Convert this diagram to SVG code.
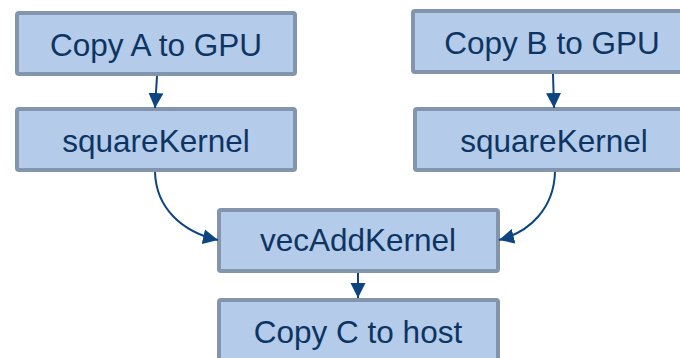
<svg xmlns="http://www.w3.org/2000/svg" width="680" height="358" viewBox="0 0 680 358">
  <style>
    .box { fill: #b4cbe9; stroke: #8394ad; stroke-width: 4; }
    .label { font-family: "Liberation Sans", Arial, sans-serif; font-size: 31.5px; fill: #0d3563; text-anchor: middle; }
    .edge { fill: none; stroke: #0e4580; stroke-width: 2; marker-end: url(#arrow); }
  </style>
  <defs>
    <marker id="arrow" markerUnits="userSpaceOnUse" markerWidth="16" markerHeight="16" viewBox="0 0 16 16" refX="15" refY="8" orient="auto">
      <path d="M0,0.5 L15,8 L0,15.5 Z" fill="#0e4580"/>
    </marker>
  </defs>

  <g id="copyA">
    <rect class="box" x="17" y="13" width="278" height="61" rx="2"/>
    <text class="label" x="156" y="56">Copy A to GPU</text>
  </g>
  <g id="squareA">
    <rect class="box" x="17" y="109" width="278" height="61" rx="2"/>
    <text class="label" x="156" y="152">squareKernel</text>
  </g>
  <g id="copyB">
    <rect class="box" x="413" y="11" width="278" height="61" rx="2"/>
    <text class="label" x="552" y="54">Copy B to GPU</text>
  </g>
  <g id="squareB">
    <rect class="box" x="415" y="109" width="278" height="61" rx="2"/>
    <text class="label" x="554" y="152">squareKernel</text>
  </g>
  <g id="vecAdd">
    <rect class="box" x="219" y="210" width="279" height="61" rx="2"/>
    <text class="label" x="358" y="251">vecAddKernel</text>
  </g>
  <g id="copyC">
    <rect class="box" x="219" y="300" width="279" height="61" rx="2"/>
    <text class="label" x="358" y="343">Copy C to host</text>
  </g>

  <g id="connectors">
    <path class="edge" d="M157,76 L155,108"/>
    <path class="edge" d="M553,74 L554,108"/>
    <path class="edge" d="M155,172 C156,208 182,232 218,240"/>
    <path class="edge" d="M555,172 C554,208 530,232 499,240"/>
    <path class="edge" d="M358,273 L358,298"/>
  </g>
</svg>
